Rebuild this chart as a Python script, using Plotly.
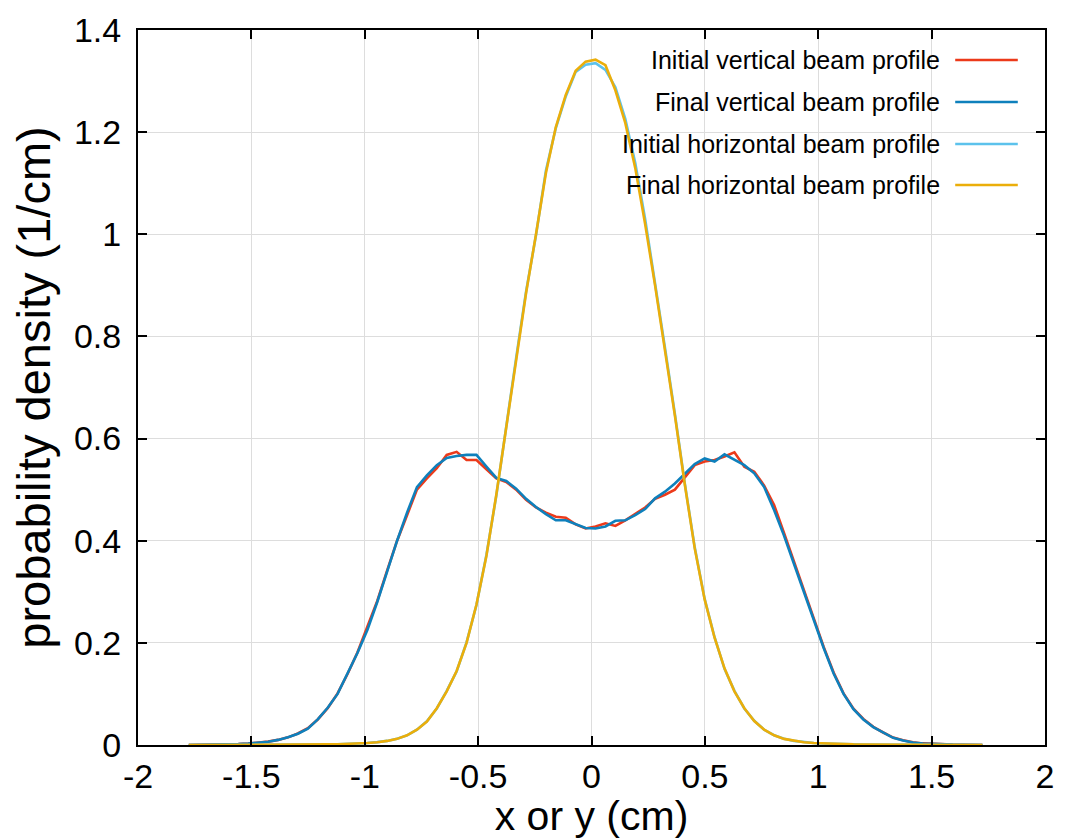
import plotly.graph_objects as go

# bin positions (cm)
x_pos = [
    -1.7760, -1.7323, -1.6885, -1.6448, -1.6010, -1.5573, -1.5135, -1.4698, -1.4260, -1.3823,
    -1.3385, -1.2948, -1.2510, -1.2073, -1.1635, -1.1198, -1.0760, -1.0323, -0.9885, -0.9448,
    -0.9010, -0.8573, -0.8135, -0.7698, -0.7260, -0.6823, -0.6385, -0.5948, -0.5510, -0.5073,
    -0.4635, -0.4198, -0.3760, -0.3323, -0.2885, -0.2448, -0.2010, -0.1573, -0.1135, -0.0698,
    -0.0260, 0.0178, 0.0615, 0.1053, 0.1490, 0.1928, 0.2365, 0.2803, 0.3240, 0.3678,
    0.4115, 0.4553, 0.4990, 0.5428, 0.5865, 0.6303, 0.6740, 0.7178, 0.7615, 0.8053,
    0.8490, 0.8928, 0.9365, 0.9803, 1.0240, 1.0678, 1.1115, 1.1553, 1.1990, 1.2428,
    1.2865, 1.3303, 1.3740, 1.4178, 1.4615, 1.5053, 1.5490, 1.5928, 1.6365, 1.6803,
    1.7240,
]

initial_vertical = [
    0.0000, 0.0002, 0.0004, 0.0008, 0.0013, 0.0018, 0.0028, 0.0042, 0.0066, 0.0100,
    0.0150, 0.0225, 0.0330, 0.0500, 0.0720, 0.1010, 0.1390, 0.1810, 0.2300, 0.2820,
    0.3420, 0.4000, 0.4500, 0.5000, 0.5220, 0.5420, 0.5680, 0.5740, 0.5580, 0.5580,
    0.5400, 0.5220, 0.5150, 0.5000, 0.4800, 0.4650, 0.4550, 0.4470, 0.4450, 0.4320,
    0.4240, 0.4280, 0.4340, 0.4290, 0.4400, 0.4520, 0.4650, 0.4820, 0.4900, 0.5000,
    0.5250, 0.5480, 0.5550, 0.5580, 0.5650, 0.5730, 0.5450, 0.5350, 0.5080, 0.4700,
    0.4150, 0.3580, 0.3050, 0.2480, 0.1920, 0.1420, 0.1010, 0.0710, 0.0510, 0.0355,
    0.0245, 0.0145, 0.0092, 0.0052, 0.0031, 0.0020, 0.0011, 0.0008, 0.0005, 0.0002,
    0.0000,
]

final_vertical = [
    0.0000, 0.0002, 0.0005, 0.0008, 0.0012, 0.0018, 0.0027, 0.0040, 0.0065, 0.0100,
    0.0150, 0.0220, 0.0320, 0.0500, 0.0730, 0.1000, 0.1400, 0.1800, 0.2250, 0.2800,
    0.3400, 0.4000, 0.4550, 0.5050, 0.5280, 0.5480, 0.5620, 0.5660, 0.5680, 0.5680,
    0.5450, 0.5230, 0.5170, 0.5020, 0.4820, 0.4660, 0.4520, 0.4400, 0.4400, 0.4320,
    0.4250, 0.4240, 0.4280, 0.4390, 0.4400, 0.4500, 0.4620, 0.4830, 0.4960, 0.5120,
    0.5300, 0.5500, 0.5610, 0.5550, 0.5690, 0.5590, 0.5480, 0.5320, 0.5050, 0.4600,
    0.4100, 0.3550, 0.3000, 0.2450, 0.1900, 0.1400, 0.1000, 0.0700, 0.0500, 0.0350,
    0.0240, 0.0140, 0.0090, 0.0050, 0.0030, 0.0020, 0.0010, 0.0008, 0.0005, 0.0002,
    0.0000,
]

initial_horizontal = [
    0.0000, 0.0000, 0.0001, 0.0001, 0.0002, 0.0002, 0.0003, 0.0004, 0.0005, 0.0006,
    0.0007, 0.0008, 0.0009, 0.0010, 0.0012, 0.0015, 0.0020, 0.0030, 0.0040, 0.0056,
    0.0080, 0.0122, 0.0188, 0.0300, 0.0465, 0.0715, 0.1060, 0.1440, 0.2010, 0.2740,
    0.3720, 0.4880, 0.6280, 0.7580, 0.8880, 0.9980, 1.1250, 1.2080, 1.2700, 1.3180,
    1.3320, 1.3350, 1.3220, 1.2880, 1.2260, 1.1400, 1.0300, 0.9060, 0.7780, 0.6480,
    0.5120, 0.3870, 0.2860, 0.2110, 0.1490, 0.1060, 0.0715, 0.0475, 0.0298, 0.0192,
    0.0121, 0.0081, 0.0055, 0.0040, 0.0030, 0.0020, 0.0015, 0.0012, 0.0010, 0.0008,
    0.0007, 0.0006, 0.0005, 0.0004, 0.0003, 0.0002, 0.0002, 0.0001, 0.0001, 0.0000,
    0.0000,
]

final_horizontal = [
    0.0000, 0.0000, 0.0001, 0.0001, 0.0002, 0.0002, 0.0003, 0.0004, 0.0005, 0.0006,
    0.0007, 0.0008, 0.0009, 0.0010, 0.0012, 0.0015, 0.0020, 0.0030, 0.0040, 0.0055,
    0.0080, 0.0120, 0.0190, 0.0300, 0.0460, 0.0720, 0.1050, 0.1450, 0.2000, 0.2750,
    0.3700, 0.4900, 0.6250, 0.7600, 0.8850, 1.0000, 1.1200, 1.2100, 1.2730, 1.3200,
    1.3380, 1.3420, 1.3310, 1.2820, 1.2180, 1.1300, 1.0200, 0.9000, 0.7750, 0.6450,
    0.5100, 0.3850, 0.2850, 0.2100, 0.1500, 0.1050, 0.0720, 0.0470, 0.0300, 0.0190,
    0.0120, 0.0080, 0.0055, 0.0040, 0.0030, 0.0020, 0.0015, 0.0012, 0.0010, 0.0008,
    0.0007, 0.0006, 0.0005, 0.0004, 0.0003, 0.0002, 0.0002, 0.0001, 0.0001, 0.0000,
    0.0000,
]

series_names = [
    "Initial vertical beam profile",
    "Final vertical beam profile",
    "Initial horizontal beam profile",
    "Final horizontal beam profile",
]
series_values = [initial_vertical, final_vertical, initial_horizontal, final_horizontal]
series_colors = ["#EC3A1A", "#0E80BC", "#5CC2EC", "#EBAE0A"]

x_tick_vals = [-2, -1.5, -1, -0.5, 0, 0.5, 1, 1.5, 2]
x_tick_text = ["-2", "-1.5", "-1", "-0.5", "0", "0.5", "1", "1.5", "2"]
y_tick_vals = [0, 0.2, 0.4, 0.6, 0.8, 1.0, 1.2, 1.4]
y_tick_text = ["0", "0.2", "0.4", "0.6", "0.8", "1", "1.2", "1.4"]

FONT = "Liberation Sans, Arial, sans-serif"

fig = go.Figure()
for name, vals, col in zip(series_names, series_values, series_colors):
    fig.add_trace(go.Scatter(
        x=x_pos, y=vals, mode="lines", name=name,
        line=dict(color=col, width=2.6), showlegend=False,
    ))

# legend background (covers grid lines, beneath the curves)
shapes = [dict(type="rect", xref="paper", yref="paper", x0=0.366, x1=1.0, y0=0.751, y1=1.0,
               fillcolor="white", line=dict(width=0), layer="between")]
annotations = []
row_y = [0.9580, 0.8993, 0.8406, 0.7832]
for name, col, yy in zip(series_names, series_colors, row_y):
    annotations.append(dict(
        xref="paper", yref="paper", x=0.886, y=yy, text=name, showarrow=False,
        xanchor="right", yanchor="middle", font=dict(family=FONT, size=25, color="black"),
    ))
    shapes.append(dict(type="line", xref="paper", yref="paper", x0=0.901, x1=0.970,
                       y0=yy, y1=yy, line=dict(color=col, width=2.6), layer="above"))

axis_common = dict(
    showline=True, linecolor="black", linewidth=2, mirror="allticks",
    ticks="inside", ticklen=9, tickwidth=1.5, tickcolor="black",
    showgrid=True, gridcolor="#dddddd", gridwidth=1, zeroline=False,
    automargin=False,
    tickfont=dict(family=FONT, size=34, color="black"),
)

fig.update_layout(
    width=1069, height=839,
    margin=dict(l=138, r=24, t=30, b=94),
    plot_bgcolor="white", paper_bgcolor="white",
    shapes=shapes, annotations=annotations,
    xaxis=dict(range=[-2, 2], tickmode="array", tickvals=x_tick_vals, ticktext=x_tick_text,
               title=dict(text="x or y (cm)", font=dict(family=FONT, size=41, color="black"), standoff=12),
               ticklabelstandoff=0, **axis_common),
    yaxis=dict(range=[0, 1.4], tickmode="array", tickvals=y_tick_vals, ticktext=y_tick_text,
               title=dict(text="probability density (1/cm)", font=dict(family=FONT, size=47, color="black"), standoff=8),
               ticklabelstandoff=8, **axis_common),
)

fig.write_html("out.html")
